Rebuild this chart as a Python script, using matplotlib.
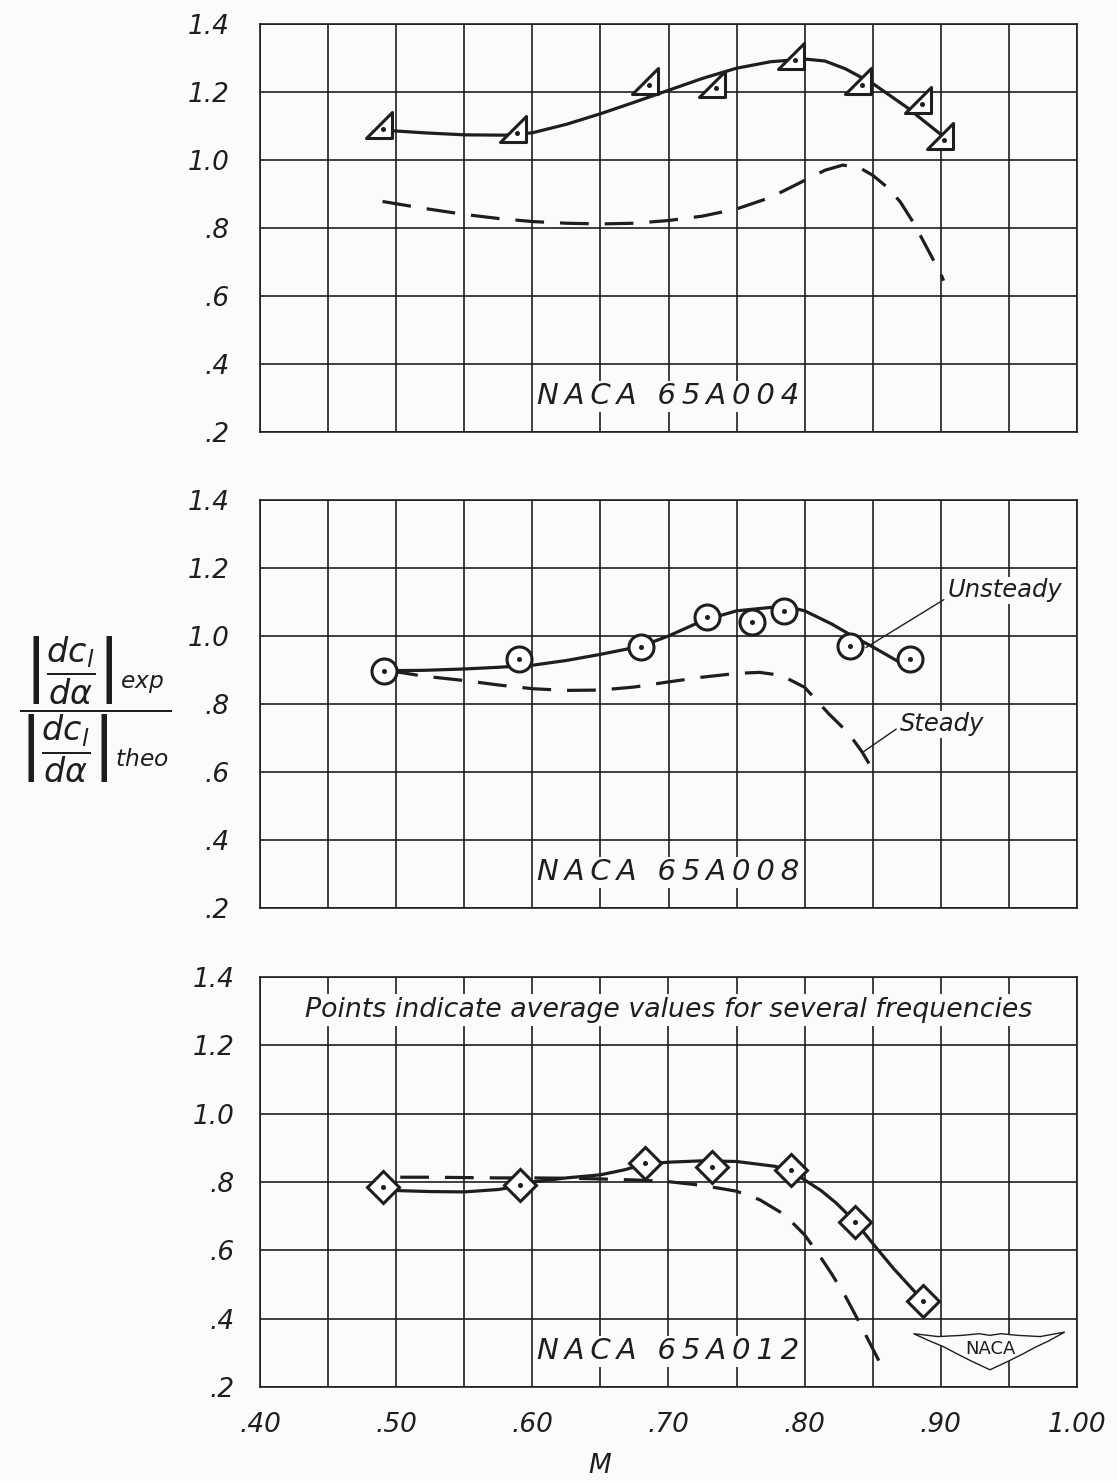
import matplotlib
matplotlib.use("Agg")
import matplotlib.pyplot as plt
from matplotlib.path import Path
from matplotlib.patches import Polygon

plt.rcParams['font.family'] = ['DejaVu Sans']
plt.rcParams['mathtext.fontset'] = 'dejavusans'

# ---------------- data ----------------
x_ticks = [0.40, 0.50, 0.60, 0.70, 0.80, 0.90, 1.00]
x_tick_labels = ['.40', '.50', '.60', '.70', '.80', '.90', '1.00']
y_ticks = [0.2, 0.4, 0.6, 0.8, 1.0, 1.2, 1.4]
y_tick_labels = ['.2', '.4', '.6', '.8', '1.0', '1.2', '1.4']

# NACA 65A004
a004_pts_M = [0.490, 0.589, 0.686, 0.735, 0.793, 0.842, 0.886, 0.902]
a004_pts_v = [1.090, 1.078, 1.222, 1.212, 1.295, 1.222, 1.165, 1.060]
a004_uns_M = [0.49, 0.52, 0.55, 0.58, 0.60, 0.625, 0.65, 0.675, 0.70, 0.725,
              0.75, 0.775, 0.80, 0.815, 0.83, 0.85, 0.875, 0.90]
a004_uns_v = [1.088, 1.080, 1.074, 1.073, 1.080, 1.105, 1.136, 1.170, 1.205, 1.240,
              1.270, 1.289, 1.297, 1.291, 1.268, 1.225, 1.155, 1.075]
a004_st_M = [0.49, 0.52, 0.55, 0.575, 0.60, 0.625, 0.65, 0.675, 0.70, 0.725, 0.75,
             0.775, 0.80, 0.815, 0.828, 0.84, 0.85, 0.86, 0.87, 0.88, 0.89, 0.90, 0.902]
a004_st_v = [0.878, 0.858, 0.840, 0.828, 0.819, 0.814, 0.812, 0.814, 0.822, 0.835, 0.856,
             0.890, 0.940, 0.970, 0.985, 0.978, 0.955, 0.922, 0.878, 0.815, 0.740, 0.665, 0.645]

# NACA 65A008
a008_pts_M = [0.491, 0.590, 0.680, 0.728, 0.761, 0.785, 0.833, 0.877]
a008_pts_v = [0.898, 0.933, 0.969, 1.055, 1.042, 1.075, 0.972, 0.931]
a008_uns_M = [0.495, 0.52, 0.55, 0.575, 0.60, 0.625, 0.65, 0.68, 0.70, 0.725,
              0.75, 0.775, 0.79, 0.80, 0.82, 0.835, 0.85, 0.87]
a008_uns_v = [0.898, 0.899, 0.903, 0.908, 0.914, 0.928, 0.946, 0.970, 1.000, 1.045,
              1.074, 1.084, 1.084, 1.074, 1.035, 1.000, 0.968, 0.922]
a008_st_M = [0.495, 0.52, 0.55, 0.575, 0.60, 0.625, 0.65, 0.675, 0.70, 0.725, 0.75,
             0.767, 0.783, 0.80, 0.818, 0.832, 0.842, 0.851]
a008_st_v = [0.898, 0.882, 0.869, 0.856, 0.845, 0.840, 0.841, 0.850, 0.865, 0.879, 0.890,
             0.893, 0.884, 0.849, 0.770, 0.715, 0.660, 0.600]

# NACA 65A012
a012_pts_M = [0.490, 0.591, 0.683, 0.732, 0.790, 0.837, 0.887]
a012_pts_v = [0.784, 0.790, 0.855, 0.845, 0.834, 0.684, 0.452]
a012_uns_M = [0.50, 0.525, 0.55, 0.575, 0.59, 0.60, 0.625, 0.65, 0.668, 0.682, 0.70,
              0.725, 0.75, 0.778, 0.79, 0.80, 0.812, 0.823, 0.837, 0.85, 0.865, 0.887]
a012_uns_v = [0.775, 0.772, 0.771, 0.778, 0.788, 0.800, 0.812, 0.821, 0.836, 0.852, 0.858,
              0.862, 0.860, 0.846, 0.834, 0.806, 0.775, 0.739, 0.684, 0.620, 0.548, 0.452]
a012_st_M = [0.503, 0.525, 0.55, 0.575, 0.60, 0.625, 0.65, 0.675, 0.70, 0.725, 0.75,
             0.767, 0.785, 0.80, 0.81, 0.82, 0.83, 0.84, 0.855]
a012_st_v = [0.814, 0.814, 0.813, 0.812, 0.812, 0.811, 0.809, 0.806, 0.801, 0.790, 0.773,
             0.748, 0.705, 0.645, 0.590, 0.530, 0.465, 0.390, 0.273]

panels = [
    ("NACA 65A004", a004_pts_M, a004_pts_v, a004_uns_M, a004_uns_v, a004_st_M, a004_st_v, 'tri'),
    ("NACA 65A008", a008_pts_M, a008_pts_v, a008_uns_M, a008_uns_v, a008_st_M, a008_st_v, 'o'),
    ("NACA 65A012", a012_pts_M, a012_pts_v, a012_uns_M, a012_uns_v, a012_st_M, a012_st_v, 'D'),
]

# ---------------- style ----------------
INK = '#1e1e1e'
BG = '#fbfbfa'
W, H = 1117, 1481
fig = plt.figure(figsize=(W / 100, H / 100), dpi=100)
fig.patch.set_facecolor(BG)

# right-angle triangle marker (right angle bottom-right), centred on centroid
tv = [(-1, -1), (1, -1), (1, 1), (-1, -1)]
cx, cy = 1 / 3, -1 / 3
tri_marker = Path([(x - cx, y - cy) for x, y in tv],
                  [Path.MOVETO, Path.LINETO, Path.LINETO, Path.CLOSEPOLY])

px_l, px_r = 260, 1077
boxes = [(24, 432), (500, 908), (977, 1387)]


def spaced(s):
    return '\u2009'.join(list(s))


axes = []
for (top, bot), (name, pM, pv, uM, uv, sM, sv, mk) in zip(boxes, panels):
    ax = fig.add_axes([px_l / W, 1 - bot / H, (px_r - px_l) / W, (bot - top) / H])
    axes.append(ax)
    ax.set_facecolor(BG)
    ax.set_xlim(0.40, 1.00)
    ax.set_ylim(0.2, 1.4)
    ax.set_xticks([0.40 + 0.05 * i for i in range(13)], minor=False)
    ax.set_yticks(y_ticks)
    ax.grid(True, color=INK, lw=1.2)
    ax.set_axisbelow(True)
    for s in ax.spines.values():
        s.set_color(INK)
        s.set_linewidth(1.2)
    ax.tick_params(length=0, pad=22)
    ax.set_yticklabels(y_tick_labels, fontsize=19, style='italic', color=INK)
    ax.set_xticklabels([])

    ax.plot(uM, uv, color=INK, lw=2.3, solid_capstyle='round', zorder=3)
    ax.plot(sM, sv, color=INK, lw=2.3, dashes=(9, 5), zorder=3)

    if mk == 'tri':
        ax.plot(pM, pv, ls='none', marker=tri_marker, ms=25, mfc='white',
                mec=INK, mew=2.2, zorder=4)
    elif mk == 'o':
        ax.plot(pM, pv, ls='none', marker='o', ms=18, mfc='white',
                mec=INK, mew=2.2, zorder=4)
    else:
        ax.plot(pM, pv, ls='none', marker='D', ms=16.5, mfc='white',
                mec=INK, mew=2.2, zorder=4)
    ax.plot(pM, pv, ls='none', marker='o', ms=2.6, color=INK, zorder=5)

    ax.text(0.70, 0.305, spaced(name), ha='center', va='center',
            fontsize=21, style='italic', color=INK, zorder=6,
            bbox=dict(fc=BG, ec='none', pad=1))

# x tick labels on bottom panel
axb = axes[2]
axb.set_xticks(x_ticks)
axb.set_xticks([0.40 + 0.05 * i for i in range(13)], minor=True)
axb.grid(True, which='both', color=INK, lw=1.2)
axb.tick_params(which='both', length=0, pad=18)
axb.set_xticklabels(x_tick_labels, fontsize=19, style='italic', color=INK)
fig.text(600 / W, 1 - 1466 / H, 'M', ha='center', va='center', fontsize=19,
         style='italic', color=INK)

# annotations middle panel
axm = axes[1]
axm.annotate('Unsteady', xy=(0.845, 0.966), xytext=(0.905, 1.135),
             fontsize=17.5, style='italic', color=INK, va='center', ha='left',
             arrowprops=dict(arrowstyle='-', color=INK, lw=1.0, shrinkB=0, shrinkA=2,
                             relpos=(0, 0.2)),
             bbox=dict(fc=BG, ec='none', pad=1))
axm.annotate('Steady', xy=(0.843, 0.659), xytext=(0.870, 0.741),
             fontsize=17.5, style='italic', color=INK, va='center', ha='left',
             arrowprops=dict(arrowstyle='-', color=INK, lw=1.0, shrinkB=0, shrinkA=2,
                             relpos=(0, 0.4)),
             bbox=dict(fc=BG, ec='none', pad=1))

# note bottom panel
axb.text(0.70, 1.303, 'Points indicate average values for several frequencies',
         ha='center', va='center', fontsize=19.3, style='italic', color=INK,
         bbox=dict(fc=BG, ec='none', pad=2), zorder=6)

# NACA wing logo (decoration)
wing = [(0.800, 0.130), (0.830, 0.123), (0.860, 0.126), (0.880, 0.130), (0.8935, 0.126),
        (0.907, 0.130), (0.927, 0.126), (0.955, 0.123), (0.985, 0.134), (0.965, 0.112),
        (0.950, 0.098), (0.935, 0.082), (0.915, 0.062), (0.8935, 0.042), (0.872, 0.062),
        (0.852, 0.082), (0.837, 0.098), (0.820, 0.112)]
axb.add_patch(Polygon(wing, closed=True, transform=axb.transAxes, fc=BG,
                      ec=INK, lw=1.0, zorder=6))
axb.text(0.8935, 0.092, 'NACA', transform=axb.transAxes, ha='center', va='center',
         fontsize=13, color=INK, zorder=7)

# y label (fraction)
ylab = (r'$\dfrac{\left|\dfrac{dc_l}{d\alpha}\right|_{exp}}'
        r'{\left|\dfrac{dc_l}{d\alpha}\right|_{theo}}$')
fig.text(95 / W, 1 - 710 / H, ylab, ha='center', va='center', fontsize=24, color=INK)

fig.savefig('out.png', dpi=100, facecolor=fig.get_facecolor())
